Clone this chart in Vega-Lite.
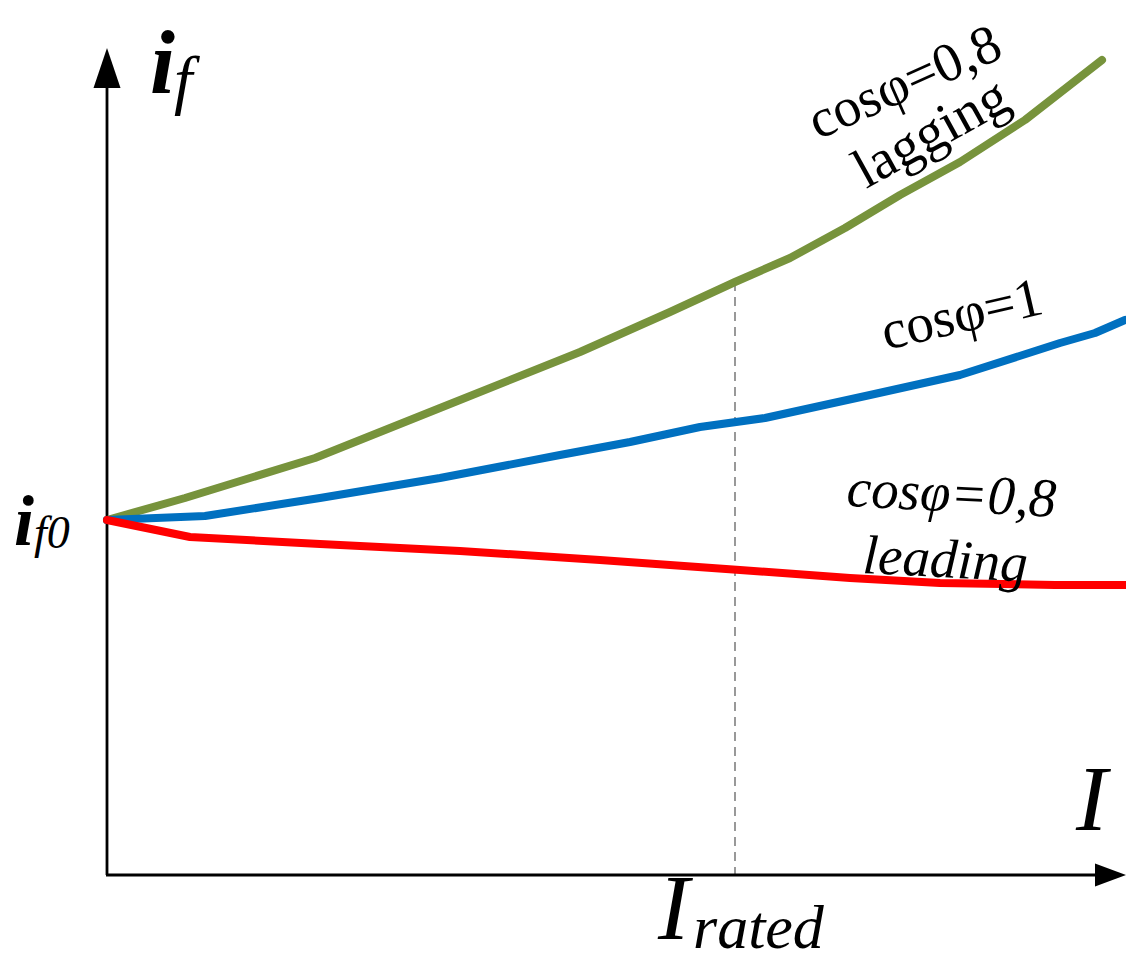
{
  "$schema": "https://vega.github.io/schema/vega-lite/v6.json",
  "autosize": {"type": "none"},
  "width": 1126,
  "height": 961,
  "padding": 0,
  "background": "white",
  "config": {"view": {"stroke": null}},
  "datasets": {
    "curves": [
      {"s": "lag", "x": 107, "y": 441}, {"s": "lag", "x": 185, "y": 463}, {"s": "lag", "x": 315, "y": 503}, {"s": "lag", "x": 440, "y": 553}, {"s": "lag", "x": 580, "y": 609}, {"s": "lag", "x": 670, "y": 649}, {"s": "lag", "x": 735, "y": 679}, {"s": "lag", "x": 790, "y": 703}, {"s": "lag", "x": 845, "y": 733}, {"s": "lag", "x": 900, "y": 766}, {"s": "lag", "x": 960, "y": 799}, {"s": "lag", "x": 1025, "y": 841}, {"s": "lag", "x": 1102, "y": 901},
      {"s": "unity", "x": 107, "y": 441}, {"s": "unity", "x": 205, "y": 445}, {"s": "unity", "x": 320, "y": 463}, {"s": "unity", "x": 440, "y": 483}, {"s": "unity", "x": 560, "y": 506}, {"s": "unity", "x": 630, "y": 519}, {"s": "unity", "x": 700, "y": 534}, {"s": "unity", "x": 765, "y": 543}, {"s": "unity", "x": 870, "y": 566}, {"s": "unity", "x": 960, "y": 586}, {"s": "unity", "x": 1060, "y": 618}, {"s": "unity", "x": 1095, "y": 628}, {"s": "unity", "x": 1125, "y": 641},
      {"s": "lead", "x": 107, "y": 441}, {"s": "lead", "x": 190, "y": 424}, {"s": "lead", "x": 320, "y": 417}, {"s": "lead", "x": 460, "y": 410}, {"s": "lead", "x": 600, "y": 401}, {"s": "lead", "x": 740, "y": 391}, {"s": "lead", "x": 850, "y": 383}, {"s": "lead", "x": 940, "y": 378}, {"s": "lead", "x": 1055, "y": 376}, {"s": "lead", "x": 1125, "y": 376}
    ]
  },
  "encoding": {
    "x": {"type": "quantitative", "scale": {"domain": [0, 1126], "nice": false, "zero": false}, "axis": null},
    "y": {"type": "quantitative", "scale": {"domain": [0, 961], "nice": false, "zero": false}, "axis": null}
  },
  "layer": [
    {
      "data": {"values": [{"x": 735, "y": 679, "x2": 735, "y2": 86}]},
      "mark": {"type": "rule", "color": "#555555", "strokeWidth": 1.2, "strokeDash": [9, 6]},
      "encoding": {"x": {"field": "x"}, "y": {"field": "y"}, "x2": {"field": "x2"}, "y2": {"field": "y2"}}
    },
    {
      "data": {"values": [{"x": 107, "y": 86, "x2": 107, "y2": 876}, {"x": 106, "y": 86, "x2": 1100, "y2": 86}]},
      "mark": {"type": "rule", "color": "black", "strokeWidth": 2.8},
      "encoding": {"x": {"field": "x"}, "y": {"field": "y"}, "x2": {"field": "x2"}, "y2": {"field": "y2"}}
    },
    {
      "data": {"values": [{"x": 107, "y": 893}]},
      "mark": {"type": "point", "shape": "M0,-1L0.675,1L-0.675,1Z", "size": 1600, "filled": true, "color": "black", "opacity": 1},
      "encoding": {"x": {"field": "x"}, "y": {"field": "y"}}
    },
    {
      "data": {"values": [{"x": 1110.5, "y": 86}]},
      "mark": {"type": "point", "shape": "M1,0L-1,-0.74L-1,0.74Z", "size": 961, "filled": true, "color": "black", "opacity": 1},
      "encoding": {"x": {"field": "x"}, "y": {"field": "y"}}
    },
    {
      "data": {"name": "curves"},
      "mark": {"type": "line", "strokeWidth": 8, "strokeCap": "round", "strokeJoin": "round"},
      "encoding": {
        "x": {"field": "x"},
        "y": {"field": "y"},
        "color": {"field": "s", "type": "nominal", "scale": {"domain": ["lag", "unity", "lead"], "range": ["#77933C", "#0070C0", "#FF0000"]}, "legend": null}
      }
    },
    {
      "data": {"values": [{"x": 150, "y": 868, "t": "i"}]},
      "mark": {"type": "text", "font": "Liberation Serif", "fontStyle": "italic", "fontWeight": "bold", "fontSize": 90, "align": "left", "baseline": "alphabetic"},
      "encoding": {"x": {"field": "x"}, "y": {"field": "y"}, "text": {"field": "t"}}
    },
    {
      "data": {"values": [{"x": 14, "y": 416, "t": "i"}]},
      "mark": {"type": "text", "font": "Liberation Serif", "fontStyle": "italic", "fontWeight": "bold", "fontSize": 72, "align": "left", "baseline": "alphabetic"},
      "encoding": {"x": {"field": "x"}, "y": {"field": "y"}, "text": {"field": "t"}}
    },
    {
      "data": {"values": [{"x": 174, "y": 859, "t": "f"}]},
      "mark": {"type": "text", "font": "Liberation Serif", "fontStyle": "italic", "fontSize": 66, "align": "left", "baseline": "alphabetic"},
      "encoding": {"x": {"field": "x"}, "y": {"field": "y"}, "text": {"field": "t"}}
    },
    {
      "data": {"values": [{"x": 34, "y": 413, "t": "f0"}]},
      "mark": {"type": "text", "font": "Liberation Serif", "fontStyle": "italic", "fontSize": 46, "align": "left", "baseline": "alphabetic"},
      "encoding": {"x": {"field": "x"}, "y": {"field": "y"}, "text": {"field": "t"}}
    },
    {
      "data": {"values": [{"x": 1076, "y": 131, "t": "I"}, {"x": 658, "y": 22, "t": "I"}]},
      "mark": {"type": "text", "font": "Liberation Serif", "fontStyle": "italic", "fontSize": 94, "align": "left", "baseline": "alphabetic"},
      "encoding": {"x": {"field": "x"}, "y": {"field": "y"}, "text": {"field": "t"}}
    },
    {
      "data": {"values": [{"x": 693, "y": 13, "t": "rated"}]},
      "mark": {"type": "text", "font": "Liberation Serif", "fontStyle": "italic", "fontSize": 62, "align": "left", "baseline": "alphabetic"},
      "encoding": {"x": {"field": "x"}, "y": {"field": "y"}, "text": {"field": "t"}}
    },
    {
      "data": {"values": [{"x": 818, "y": 821, "t": "cosφ=0,8"}]},
      "mark": {"type": "text", "font": "Liberation Serif", "fontSize": 55, "align": "left", "baseline": "alphabetic", "angle": -24},
      "encoding": {"x": {"field": "x"}, "y": {"field": "y"}, "text": {"field": "t"}}
    },
    {
      "data": {"values": [{"x": 866, "y": 772, "t": "lagging"}]},
      "mark": {"type": "text", "font": "Liberation Serif", "fontSize": 56, "align": "left", "baseline": "alphabetic", "angle": -29},
      "encoding": {"x": {"field": "x"}, "y": {"field": "y"}, "text": {"field": "t"}}
    },
    {
      "data": {"values": [{"x": 886, "y": 611, "t": "cosφ=1"}]},
      "mark": {"type": "text", "font": "Liberation Serif", "fontSize": 55, "align": "left", "baseline": "alphabetic", "angle": -13},
      "encoding": {"x": {"field": "x"}, "y": {"field": "y"}, "text": {"field": "t"}}
    },
    {
      "data": {"values": [{"x": 846, "y": 455, "t": "cosφ=0,8"}]},
      "mark": {"type": "text", "font": "Liberation Serif", "fontStyle": "italic", "fontSize": 55, "align": "left", "baseline": "alphabetic", "angle": 3},
      "encoding": {"x": {"field": "x"}, "y": {"field": "y"}, "text": {"field": "t"}}
    },
    {
      "data": {"values": [{"x": 862, "y": 388, "t": "leading"}]},
      "mark": {"type": "text", "font": "Liberation Serif", "fontStyle": "italic", "fontSize": 55, "align": "left", "baseline": "alphabetic", "angle": 3},
      "encoding": {"x": {"field": "x"}, "y": {"field": "y"}, "text": {"field": "t"}}
    }
  ]
}
